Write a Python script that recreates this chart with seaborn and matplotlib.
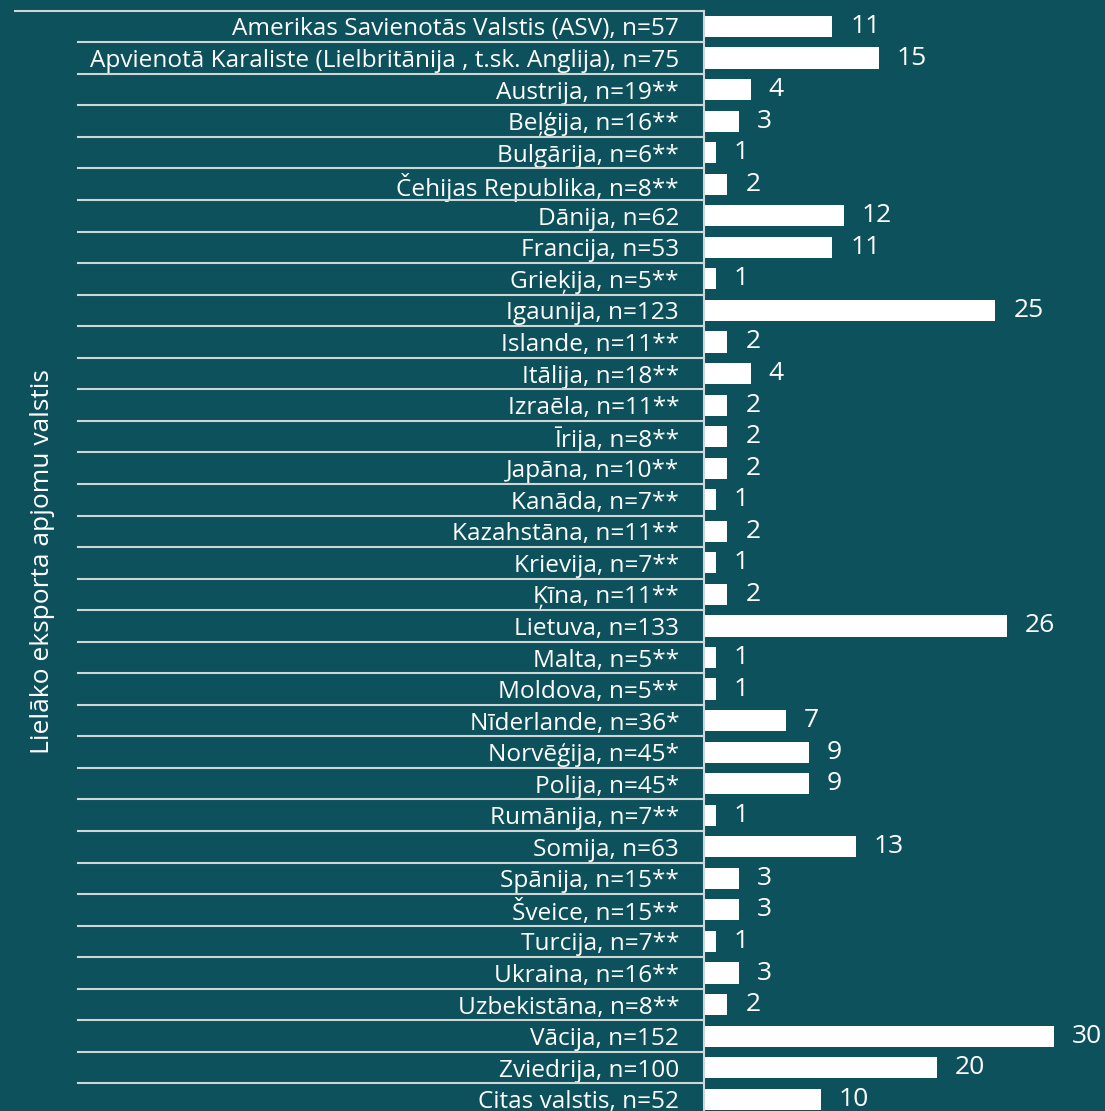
import matplotlib
matplotlib.use("Agg")
import matplotlib.pyplot as plt
import matplotlib.transforms as mtransforms
import numpy as np
import pandas as pd
import seaborn as sns

countries = [
    "Amerikas Savienotās Valstis (ASV), n=57",
    "Apvienotā Karaliste (Lielbritānija , t.sk. Anglija), n=75",
    "Austrija, n=19**",
    "Beļģija, n=16**",
    "Bulgārija, n=6**",
    "Čehijas Republika, n=8**",
    "Dānija, n=62",
    "Francija, n=53",
    "Grieķija, n=5**",
    "Igaunija, n=123",
    "Islande, n=11**",
    "Itālija, n=18**",
    "Izraēla, n=11**",
    "Īrija, n=8**",
    "Japāna, n=10**",
    "Kanāda, n=7**",
    "Kazahstāna, n=11**",
    "Krievija, n=7**",
    "Ķīna, n=11**",
    "Lietuva, n=133",
    "Malta, n=5**",
    "Moldova, n=5**",
    "Nīderlande, n=36*",
    "Norvēģija, n=45*",
    "Polija, n=45*",
    "Rumānija, n=7**",
    "Somija, n=63",
    "Spānija, n=15**",
    "Šveice, n=15**",
    "Turcija, n=7**",
    "Ukraina, n=16**",
    "Uzbekistāna, n=8**",
    "Vācija, n=152",
    "Zviedrija, n=100",
    "Citas valstis, n=52",
]
shares = [11, 15, 4, 3, 1, 2, 12, 11, 1, 25, 2, 4, 2, 2, 2, 1, 2, 1, 2, 26,
          1, 1, 7, 9, 9, 1, 13, 3, 3, 1, 3, 2, 30, 20, 10]
y_title = "Lielāko eksporta apjomu valstis"

BG = "#0C515B"
LINE = "#D0D6D6"
FONT = ["Open Sans", "DejaVu Sans"]

df = pd.DataFrame({"valsts": countries, "pct": shares})

W, H = 1105, 1111
fig = plt.figure(figsize=(W / 100, H / 100), dpi=100, facecolor=BG)
plt.rcParams["font.family"] = FONT

ax_left = 704 / W
ax_top = 1 - 10.7 / H
ax_bottom = 1 - 1115 / H
ax = fig.add_axes([ax_left, ax_bottom, 1 - ax_left, ax_top - ax_bottom])
ax.set_facecolor(BG)

sns.barplot(data=df, y="valsts", x="pct", orient="h", color="white",
            width=0.67, saturation=1, ax=ax)

ax.set_xlim(0, 34.4)
ax.set_ylim(len(countries) - 0.5, -0.5)

for c in ax.containers:
    ax.bar_label(c, labels=[f"{v:g}" for v in shares], padding=13,
                 color="white", fontsize=19)

for s in ["top", "right", "bottom"]:
    ax.spines[s].set_visible(False)
ax.spines["left"].set_color(LINE)
ax.spines["left"].set_linewidth(1.5)
ax.xaxis.set_visible(False)
ax.tick_params(axis="y", which="major", length=0, pad=18, labelsize=17.6,
               labelcolor="white")
ax.set_yticks(np.arange(len(countries) + 1) - 0.5, minor=True)
ax.tick_params(axis="y", which="minor", length=3, width=1.5, color=LINE)
ax.set_ylabel("")

# row separators to the left of the axis
trans = mtransforms.blended_transform_factory(fig.transFigure, ax.transData)
for i in range(len(countries) + 1):
    yb = i - 0.5
    x0 = 15 / W if i == 0 else 78 / W
    fig.add_artist(plt.Line2D([x0, ax_left], [yb, yb], transform=trans,
                              color=LINE, lw=1.5))

fig.text(43 / W, 1 - 562 / H, y_title, rotation=90, ha="center", va="center",
         color="white", fontsize=19)

fig.savefig("out.png", dpi=100, facecolor=BG)
